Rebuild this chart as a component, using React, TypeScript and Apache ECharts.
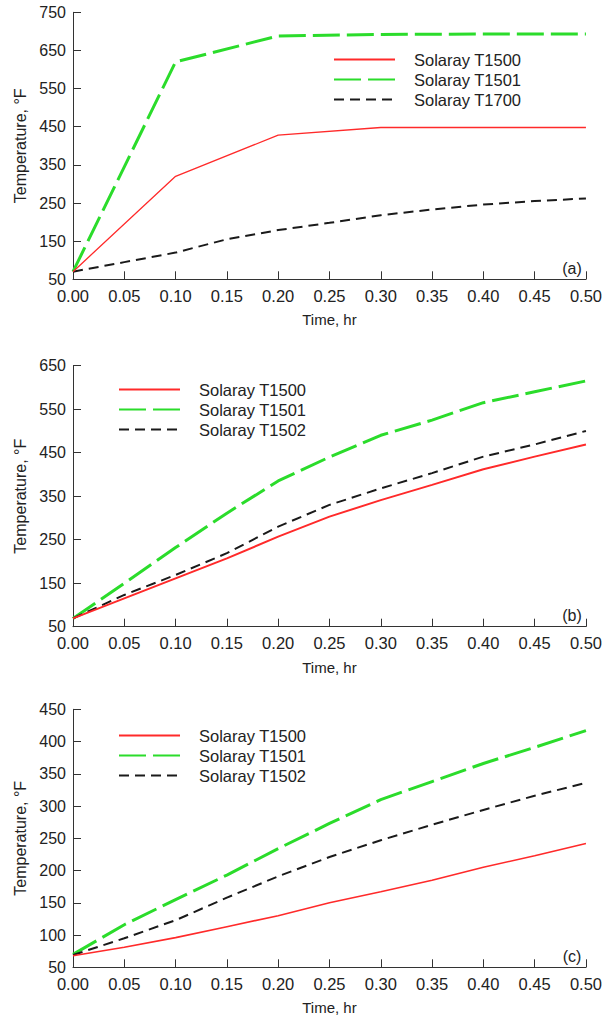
import React, { useEffect, useRef } from "react";
import * as echarts from "echarts";

// Time (hr) grids
const timesCoarse = [0, 0.1, 0.2, 0.3, 0.4, 0.5];
const timesFine = [0, 0.05, 0.1, 0.15, 0.2, 0.25, 0.3, 0.35, 0.4, 0.45, 0.5];

// Panel (a)
const aT1500 = [70, 320, 428, 448, 448, 448];
const aT1501 = [70, 620, 688, 692, 693, 693];
const aT1700 = [70, 95, 120, 155, 179, 198, 218, 233, 246, 255, 262];

// Panel (b)
const bT1500 = [69, 115, 161, 207, 257, 303, 341, 376, 412, 441, 469];
const bT1501 = [69, 150, 232, 311, 385, 440, 490, 525, 565, 590, 615];
const bT1502 = [69, 123, 169, 219, 280, 330, 368, 403, 441, 469, 500];

// Panel (c)
const cT1500 = [68, 81, 96, 113, 130, 150, 167, 185, 205, 223, 242];
const cT1501 = [70, 116, 155, 193, 234, 273, 310, 338, 366, 391, 417];
const cT1502 = [69, 95, 123, 158, 191, 221, 247, 271, 294, 316, 336];

const yRanges = [
  { min: 50, max: 750, interval: 100 },
  { min: 50, max: 650, interval: 100 },
  { min: 50, max: 450, interval: 50 },
];
const panelLabels = ["(a)", "(b)", "(c)"];
const xName = "Time, hr";
const yName = "Temperature, °F";

const FONT = "'Liberation Sans', Arial, Helvetica, sans-serif";
const TXT = "#222";
const AX = "#333";

const pairs = (t: number[], v: number[]) => t.map((x, i) => [x, v[i]]);

export default function App() {
  const ref = useRef<HTMLDivElement>(null);
  useEffect(() => {
    if (!ref.current) return;
    const chart = echarts.init(ref.current, undefined, { renderer: "svg" });

    const grids = [
      { left: 73, width: 516, top: 12.3, height: 267 },
      { left: 73, width: 516, top: 365.7, height: 261 },
      { left: 73, width: 516, top: 709.3, height: 258 },
    ];

    const xAxes = grids.map((_, i) => ({
      type: "value",
      gridIndex: i,
      min: 0,
      max: 0.5,
      interval: 0.05,
      name: xName,
      nameLocation: "middle",
      nameGap: 33,
      nameTextStyle: { fontSize: 15, fontWeight: "normal", color: TXT, fontFamily: FONT },
      axisLine: { show: true, lineStyle: { color: AX, width: 1 } },
      axisTick: { show: true, inside: true, length: 8, lineStyle: { color: AX } },
      axisLabel: {
        margin: 8,
        fontSize: 16.5,
        color: TXT,
        fontFamily: FONT,
        formatter: (v: number) => v.toFixed(2),
      },
      splitLine: { show: false },
    }));

    const yAxes = grids.map((_, i) => ({
      type: "value",
      gridIndex: i,
      min: yRanges[i].min,
      max: yRanges[i].max,
      interval: yRanges[i].interval,
      name: yName,
      nameLocation: "middle",
      nameRotate: 90,
      nameGap: 45,
      nameTextStyle: { fontSize: 16, fontWeight: "normal", color: TXT, fontFamily: FONT },
      axisLine: { show: true, lineStyle: { color: AX, width: 1 } },
      axisTick: { show: true, inside: true, length: 8, lineStyle: { color: AX } },
      axisLabel: { margin: 7, fontSize: 16, color: TXT, fontFamily: FONT },
      splitLine: { show: false },
    }));

    const red = "#ff2a2a";
    const green = "#2bdc2b";
    const black = "#1a1a1a";

    const mk = (
      name: string,
      idx: number,
      data: number[][],
      color: string,
      width: number,
      type: any,
      z: number
    ) => ({
      type: "line",
      name,
      xAxisIndex: idx,
      yAxisIndex: idx,
      data,
      symbol: "none",
      showSymbol: false,
      z,
      lineStyle: { color, width, type },
      itemStyle: { color },
    });

    const longDash = [27, 7];
    const shortDash = [10, 6];

    const series = [
      mk("Solaray T1501#a", 0, pairs(timesCoarse, aT1501), green, 3, longDash, 2),
      mk("Solaray T1500#a", 0, pairs(timesCoarse, aT1500), red, 1.3, "solid", 3),
      mk("Solaray T1700#a", 0, pairs(timesFine, aT1700), black, 2, shortDash, 2),
      mk("Solaray T1501#b", 1, pairs(timesFine, bT1501), green, 3, longDash, 2),
      mk("Solaray T1502#b", 1, pairs(timesFine, bT1502), black, 2, shortDash, 2),
      mk("Solaray T1500#b", 1, pairs(timesFine, bT1500), red, 2, "solid", 3),
      mk("Solaray T1501#c", 2, pairs(timesFine, cT1501), green, 3, longDash, 2),
      mk("Solaray T1502#c", 2, pairs(timesFine, cT1502), black, 2, shortDash, 2),
      mk("Solaray T1500#c", 2, pairs(timesFine, cT1500), red, 1.6, "solid", 3),
    ];

    const legendBase = {
      orient: "vertical",
      itemWidth: 61,
      itemHeight: 14,
      itemGap: 3,
      padding: 0,
      selectedMode: false,
      itemStyle: { opacity: 0, borderWidth: 0 },
      formatter: (n: string) => n.split("#")[0],
      textStyle: { fontSize: 16.5, color: TXT, fontFamily: FONT, padding: [0, 0, 0, 14] },
    };

    const legends = [
      { ...legendBase, left: 333, top: 51, data: ["Solaray T1500#a", "Solaray T1501#a", "Solaray T1700#a"] },
      { ...legendBase, left: 118, top: 381, data: ["Solaray T1500#b", "Solaray T1501#b", "Solaray T1502#b"] },
      { ...legendBase, left: 118, top: 727, data: ["Solaray T1500#c", "Solaray T1501#c", "Solaray T1502#c"] },
    ];

    const labelY = [268, 615, 956];
    const graphic = panelLabels.map((t, i) => ({
      type: "text",
      x: 572,
      y: labelY[i],
      style: {
        text: t,
        fontSize: 16,
        fill: TXT,
        fontFamily: FONT,
        textAlign: "center",
        textVerticalAlign: "middle",
      },
    }));

    chart.setOption({
      animation: false,
      backgroundColor: "#ffffff",
      grid: grids,
      xAxis: xAxes,
      yAxis: yAxes,
      legend: legends,
      series,
      graphic,
    });

    return () => chart.dispose();
  }, []);

  return (
    <div
      ref={ref}
      style={{ position: "absolute", left: 0, top: 0, width: 605, height: 1017, background: "#fff" }}
    />
  );
}
